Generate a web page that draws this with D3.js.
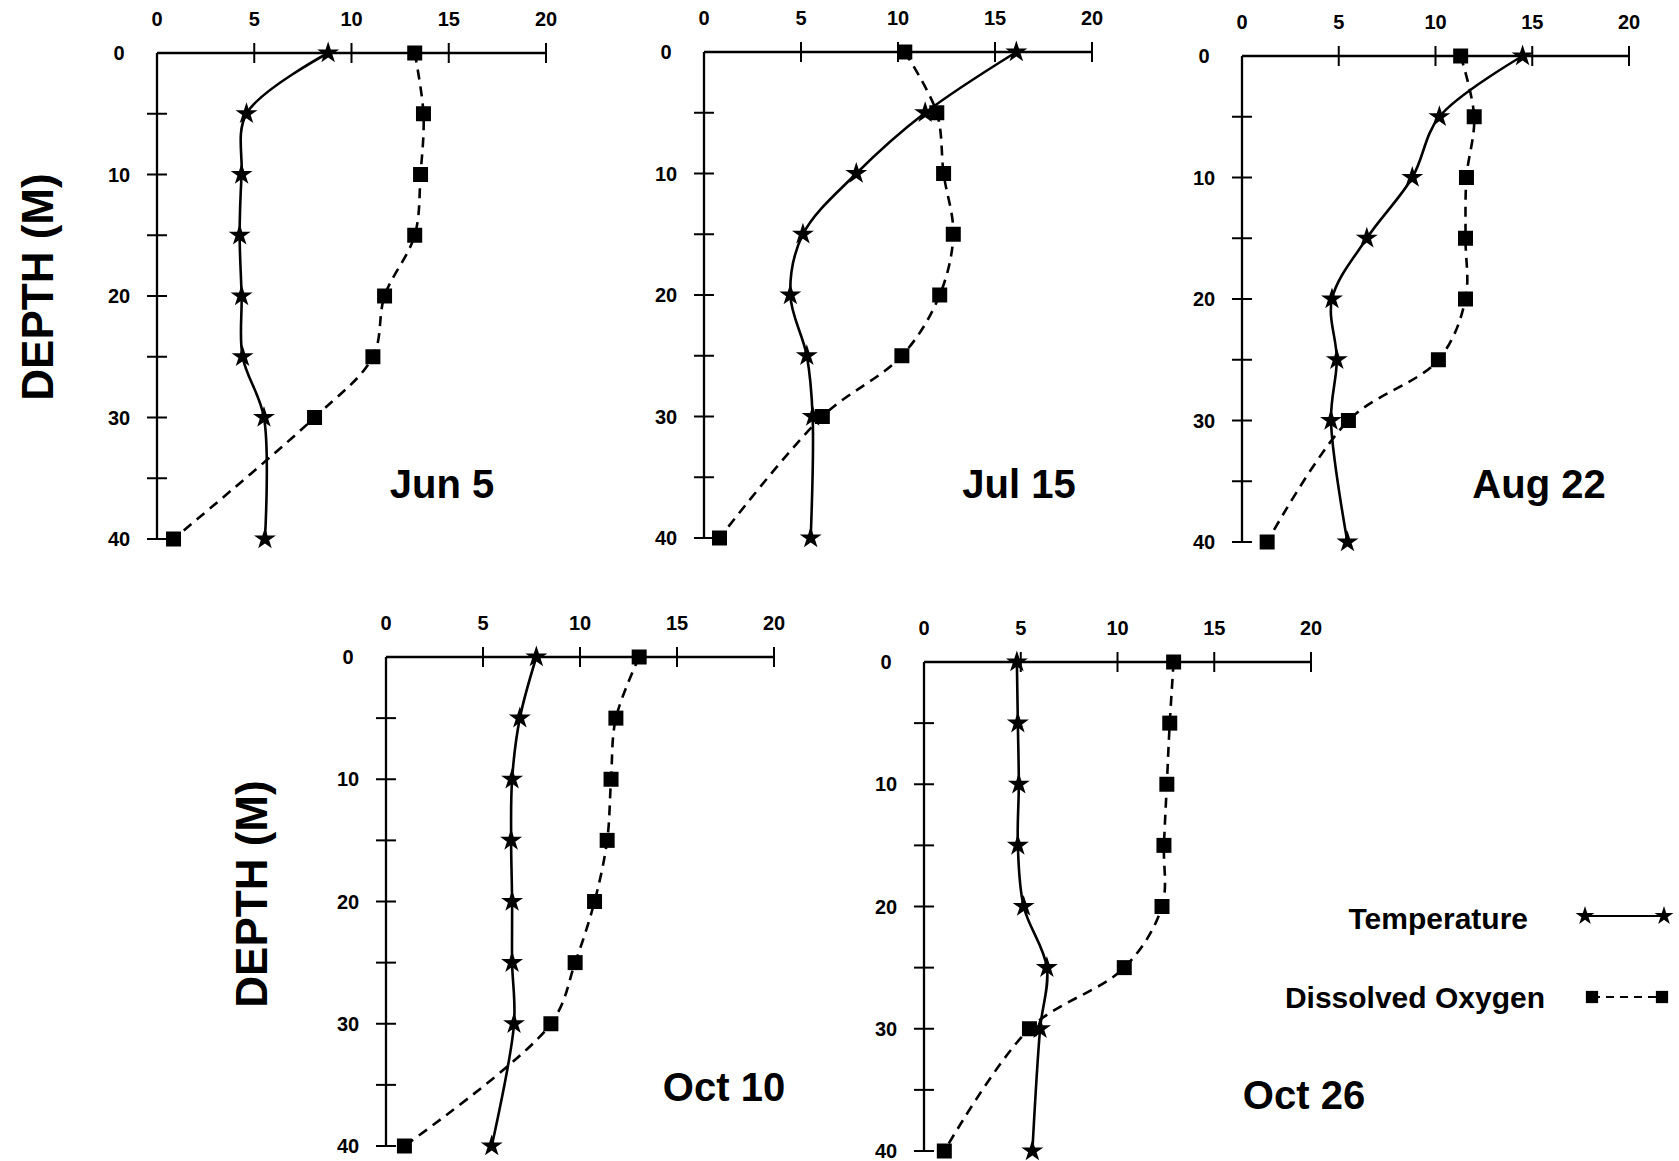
<!DOCTYPE html>
<html>
<head>
<meta charset="utf-8">
<script src="https://cdn.jsdelivr.net/npm/d3@7"></script>
<style>
  body { margin: 0; background: #fff; }
  svg text { font-family: "Liberation Sans", Arial, sans-serif; font-weight: bold; fill: #000; }
</style>
</head>
<body>
<svg id="chart" width="1679" height="1161"></svg>
<script>
// depths sampled (m)
const depths = [0, 5, 10, 15, 20, 25, 30, 40];
const depthTicks = [0, 5, 10, 15, 20, 25, 30, 35, 40];
const depthLabels = [0, 10, 20, 30, 40];
const xTicks = [0, 5, 10, 15, 20];
const dates = ["Jun 5", "Jul 15", "Aug 22", "Oct 10", "Oct 26"];

// temperature (C) and dissolved oxygen (mg/L)
const tempJun5 = [8.8, 4.6, 4.35, 4.25, 4.35, 4.4, 5.5, 5.55];
const oxyJun5 = [13.25, 13.7, 13.55, 13.25, 11.7, 11.1, 8.1, 0.85];
const tempJul15 = [16.1, 11.4, 7.85, 5.1, 4.45, 5.3, 5.6, 5.5];
const oxyJul15 = [10.35, 12.0, 12.35, 12.85, 12.15, 10.2, 6.1, 0.8];
const tempAug22 = [14.5, 10.2, 8.8, 6.45, 4.65, 4.9, 4.6, 5.45];
const oxyAug22 = [11.3, 12.0, 11.6, 11.55, 11.55, 10.15, 5.5, 1.3];
const tempOct10 = [7.75, 6.9, 6.5, 6.45, 6.5, 6.5, 6.6, 5.45];
const oxyOct10 = [13.05, 11.85, 11.6, 11.4, 10.75, 9.75, 8.5, 0.95];
const tempOct26 = [4.8, 4.85, 4.9, 4.85, 5.15, 6.35, 6.0, 5.6];
const oxyOct26 = [12.9, 12.7, 12.55, 12.4, 12.3, 10.35, 5.45, 1.05];

const temps = [tempJun5, tempJul15, tempAug22, tempOct10, tempOct26];
const oxys = [oxyJun5, oxyJul15, oxyAug22, oxyOct10, oxyOct26];

// panel frames: x of 0 and 20, y of depth 0 and 40, date label spot
const frames = [
  {x0: 157, x1: 546, y0: 53, y1: 539, lx: 442, ly: 498},
  {x0: 704, x1: 1092, y0: 52, y1: 538, lx: 1019, ly: 498},
  {x0: 1242, x1: 1629, y0: 56, y1: 542, lx: 1539, ly: 498},
  {x0: 386, x1: 774, y0: 657, y1: 1146, lx: 724, ly: 1101},
  {x0: 924, x1: 1311, y0: 662, y1: 1151, lx: 1304, ly: 1109}
];

const svg = d3.select("#chart");

const star = d3.symbol().type(d3.symbolStar).size(150);
const square = d3.symbol().type(d3.symbolSquare).size(225);

frames.forEach((f, i) => {
  let x = d3.scaleLinear().domain([0, 20]).range([f.x0, f.x1]);
  let y = d3.scaleLinear().domain([0, 40]).range([f.y0, f.y1]);
  let g = svg.append("g");

  // axes drawn by hand to get the cross ticks
  g.append("line").attr("x1", x(0)).attr("x2", x(20)).attr("y1", y(0)).attr("y2", y(0))
    .attr("stroke", "#000").attr("stroke-width", 2.3);
  g.append("line").attr("x1", x(0)).attr("x2", x(0)).attr("y1", y(0)).attr("y2", y(40))
    .attr("stroke", "#000").attr("stroke-width", 2.3);

  g.selectAll(".xt").data(xTicks.filter(d => d > 0)).join("line")
    .attr("x1", d => x(d)).attr("x2", d => x(d))
    .attr("y1", y(0) - 10).attr("y2", y(0) + 10)
    .attr("stroke", "#000").attr("stroke-width", 2);
  g.selectAll(".xl").data(xTicks).join("text")
    .attr("x", d => x(d)).attr("y", y(0) - 27)
    .attr("text-anchor", "middle").style("font-size", "20px")
    .text(d => d);

  g.selectAll(".yt").data(depthTicks.filter(d => d > 0)).join("line")
    .attr("x1", x(0) - 10).attr("x2", x(0) + 10)
    .attr("y1", d => y(d)).attr("y2", d => y(d))
    .attr("stroke", "#000").attr("stroke-width", 2);
  g.selectAll(".yl").data(depthLabels).join("text")
    .attr("x", x(0) - 38).attr("y", d => y(d)).attr("dy", "0.36em")
    .attr("text-anchor", "middle").style("font-size", "20px")
    .text(d => d);

  let tPts = depths.map((d, k) => [temps[i][k], d]);
  let oPts = depths.map((d, k) => [oxys[i][k], d]);
  let line = d3.line().x(p => x(p[0])).y(p => y(p[1])).curve(d3.curveCatmullRom.alpha(0.5));

  g.append("path").attr("d", line(tPts)).attr("fill", "none")
    .attr("stroke", "#000").attr("stroke-width", 2.6);
  g.append("path").attr("d", line(oPts)).attr("fill", "none")
    .attr("stroke", "#000").attr("stroke-width", 2.6).attr("stroke-dasharray", "10,7");

  g.selectAll(".sq").data(oPts).join("path")
    .attr("d", square).attr("transform", p => `translate(${x(p[0])},${y(p[1])})`)
    .attr("fill", "#000");
  g.selectAll(".st").data(tPts).join("path")
    .attr("d", star).attr("transform", p => `translate(${x(p[0])},${y(p[1])})`)
    .attr("fill", "#000");

  g.append("text").attr("x", f.lx).attr("y", f.ly).attr("text-anchor", "middle")
    .style("font-size", "40px").text(dates[i]);
});

// shared y titles
[[38, 287], [252, 894]].forEach(p => {
  svg.append("text")
    .attr("transform", `translate(${p[0]},${p[1]}) rotate(-90)`)
    .attr("text-anchor", "middle").attr("dy", "0.35em")
    .style("font-size", "44px").text("DEPTH (M)");
});

// legend
let leg = svg.append("g");
leg.append("text").attr("x", 1528).attr("y", 929).attr("text-anchor", "end")
  .style("font-size", "30px").text("Temperature");
leg.append("line").attr("x1", 1585).attr("x2", 1664).attr("y1", 916).attr("y2", 916)
  .attr("stroke", "#000").attr("stroke-width", 2.2);
leg.selectAll(".ls").data([1585, 1664]).join("path")
  .attr("d", d3.symbol().type(d3.symbolStar).size(110))
  .attr("transform", d => `translate(${d},916)`).attr("fill", "#000");

leg.append("text").attr("x", 1545).attr("y", 1008).attr("text-anchor", "end")
  .style("font-size", "30px").text("Dissolved Oxygen");
leg.append("line").attr("x1", 1592).attr("x2", 1662).attr("y1", 997).attr("y2", 997)
  .attr("stroke", "#000").attr("stroke-width", 2.2).attr("stroke-dasharray", "8,6");
leg.selectAll(".lq").data([1592, 1662]).join("path")
  .attr("d", d3.symbol().type(d3.symbolSquare).size(150))
  .attr("transform", d => `translate(${d},997)`).attr("fill", "#000");
</script>
</body>
</html>
